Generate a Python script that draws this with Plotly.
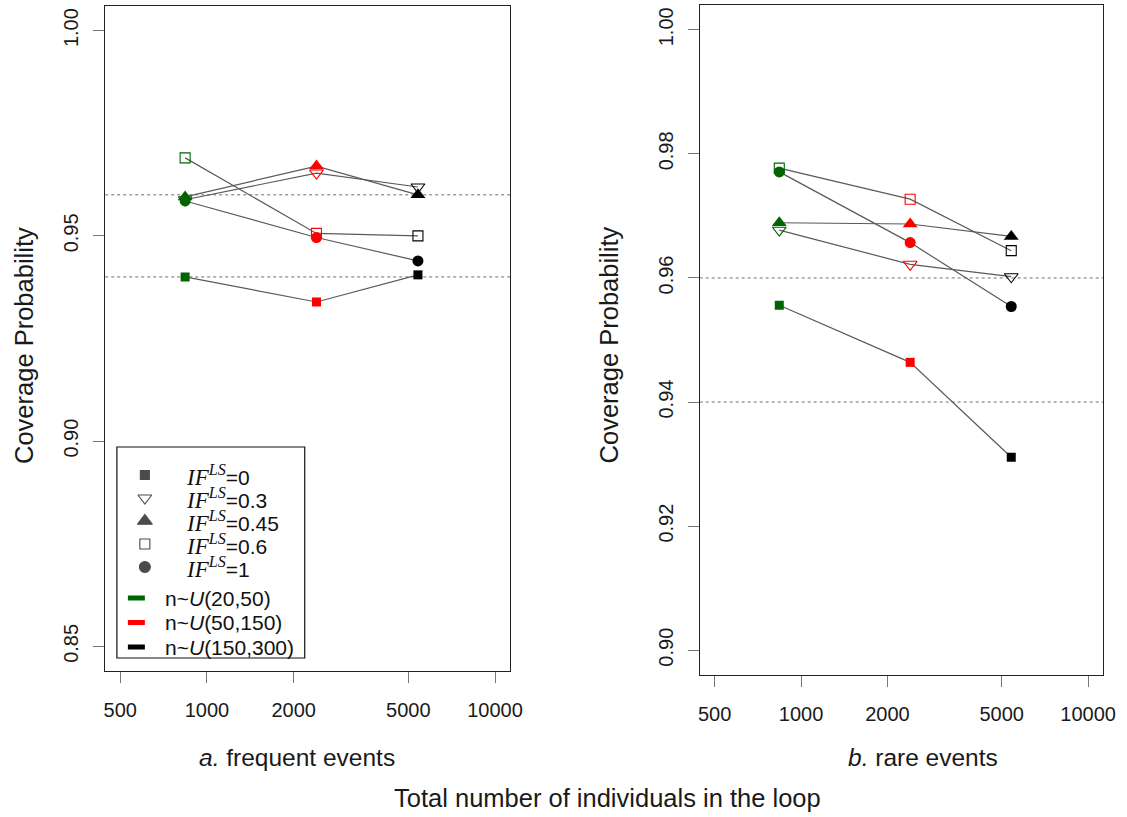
import math
import plotly.graph_objects as go

# ---------------- data ----------------
n_total = [840, 2400, 5400]                      # total individuals in the loop
group_labels = ["n~<i>U</i>(20,50)", "n~<i>U</i>(50,150)", "n~<i>U</i>(150,300)"]
group_colors = ["#006400", "#ff0000", "#000000"]

if_labels = ["0", "0.3", "0.45", "0.6", "1"]
if_symbols = ["square", "triangle-down-open", "triangle-up", "square-open", "circle"]
if_sizes = [9, 12, 13, 10, 11]

# a. frequent events (coverage probability for each IF level, by group)
freq_if0 = [0.9400, 0.9339, 0.9405]
freq_if03 = [0.9588, 0.9653, 0.9619]
freq_if045 = [0.9595, 0.9670, 0.9600]
freq_if06 = [0.9690, 0.9506, 0.9500]
freq_if1 = [0.9585, 0.9496, 0.9439]

# b. rare events
rare_if0 = [0.9556, 0.9464, 0.9311]
rare_if03 = [0.9677, 0.9622, 0.9602]
rare_if045 = [0.9689, 0.9687, 0.9667]
rare_if06 = [0.9777, 0.9727, 0.9644]
rare_if1 = [0.9771, 0.9657, 0.9554]

freq = [freq_if0, freq_if03, freq_if045, freq_if06, freq_if1]
rare = [rare_if0, rare_if03, rare_if045, rare_if06, rare_if1]

x_ticks = [500, 1000, 2000, 5000, 10000]
freq_yticks = [0.85, 0.90, 0.95, 1.00]
rare_yticks = [0.90, 0.92, 0.94, 0.96, 0.98, 1.00]
ref_lines = [0.94, 0.96]

xlim = [500, 10000]
freq_ylim = [0.85, 1.00]
rare_ylim = [0.90, 1.00]

# ---------------- figure ----------------
W, H = 1127, 817
WE = 1113          # width the page actually lays the figure out at (scrollbar)
FONT = "Liberation Sans, Arial, sans-serif"
TRANSP = "rgba(0,0,0,0)"
fig = go.Figure()


def r_range(lo, hi):
    d = (hi - lo) * 0.04
    return [lo - d, hi + d]


lx = r_range(math.log10(xlim[0]), math.log10(xlim[1]))

panels = [("x", "y", freq), ("x2", "y2", rare)]
for xa, ya, data in panels:
    for k, vals in enumerate(data):
        fig.add_trace(go.Scatter(
            x=n_total, y=vals, mode="lines", xaxis=xa, yaxis=ya,
            line=dict(color="#5a5a5a", width=1.2), hoverinfo="skip", showlegend=False))
    for k, vals in enumerate(data):
        is_open = "open" in if_symbols[k]
        fig.add_trace(go.Scatter(
            x=n_total, y=vals, mode="markers", xaxis=xa, yaxis=ya,
            marker=dict(symbol=if_symbols[k], size=if_sizes[k], color=group_colors,
                        line=dict(width=1.1 if is_open else 0, color=group_colors)),
            hoverinfo="skip", showlegend=False))
    for v in ref_lines:
        fig.add_shape(type="line", xref=xa + " domain", yref=ya, x0=0, x1=1, y0=v, y1=v,
                      line=dict(color="#6e6e6e", width=1, dash="dot"), layer="below")

axis_common = dict(showline=True, mirror=True, linecolor="#222", linewidth=1,
                   ticks="outside", ticklen=11, tickwidth=1.2, tickcolor="#777",
                   showgrid=False, zeroline=False,
                   tickfont=dict(family=FONT, size=20, color="#1a1a1a"))

xdom_a = [103.3 / WE, 508.5 / WE]
xdom_b = [698.3 / WE, 1102 / WE]
ydom_a = [1 - 671 / H, 1 - 6 / H]
ydom_b = [1 - 675 / H, 1 - 5 / H]

fig.update_layout(
    width=W, height=H, autosize=False, margin=dict(l=0, r=0, t=0, b=0),
    paper_bgcolor="white", plot_bgcolor=TRANSP, showlegend=False,
    font=dict(family=FONT, color="#1a1a1a"),
    xaxis=dict(domain=xdom_a, anchor="y", type="log", range=lx,
               tickvals=x_ticks, ticktext=[str(t) for t in x_ticks],
               ticklabelstandoff=10, **axis_common),
    yaxis=dict(domain=ydom_a, anchor="x", range=r_range(*freq_ylim),
               tickvals=freq_yticks, tickformat=".2f", tickangle=-90,
               ticklabelstandoff=7, **axis_common),
    xaxis2=dict(domain=xdom_b, anchor="y2", type="log", range=lx,
                tickvals=x_ticks, ticktext=[str(t) for t in x_ticks],
                ticklabelstandoff=10, **axis_common),
    yaxis2=dict(domain=ydom_b, anchor="x2", range=r_range(*rare_ylim),
                tickvals=rare_yticks, tickformat=".2f", tickangle=-90,
                ticklabelstandoff=7, **axis_common),
    # pixel-space overlay axis used only to place the legend keys and titles
    xaxis3=dict(domain=[0, 1], range=[0, WE], visible=False, fixedrange=True, anchor="y3"),
    yaxis3=dict(domain=[0, 1], range=[H, 0], visible=False, fixedrange=True, anchor="x3"),
)

# ---------------- legend (panel a) ----------------
fig.add_shape(type="rect", xref="x3", yref="y3", x0=115, x1=303, y0=447, y1=658,
              line=dict(color="#111", width=1.2), fillcolor=TRANSP, layer="above")

row0, row_step = 475, 23
sym_x, txt_x = 143, 182
if_rows = [row0 + row_step * i for i in range(len(if_labels))]
fig.add_trace(go.Scatter(
    x=[sym_x] * len(if_labels), y=if_rows, mode="markers", xaxis="x3", yaxis="y3",
    marker=dict(symbol=if_symbols, size=if_sizes, color="#000",
                line=dict(width=1.1, color="#000")),
    hoverinfo="skip", showlegend=False))
math_lbl = ("<span style=\"font-family:'Liberation Serif','DejaVu Serif',serif;font-size:23px\">"
            "<i>IF</i><sup><i>LS</i></sup></span>")
for lab, yy in zip(if_labels, if_rows):
    fig.add_annotation(xref="x3", yref="y3", x=txt_x, y=yy, xanchor="left", yanchor="middle",
                       text=math_lbl + "=" + lab, showarrow=False,
                       font=dict(family=FONT, size=21, color="#111"))

grp_rows = [598 + 24.5 * i for i in range(len(group_labels))]
for lab, col, yy in zip(group_labels, group_colors, grp_rows):
    fig.add_shape(type="rect", xref="x3", yref="y3", x0=126, x1=143, y0=yy - 2.5, y1=yy + 2.5,
                  line=dict(width=0), fillcolor=col, layer="above")
    fig.add_annotation(xref="x3", yref="y3", x=161, y=yy, xanchor="left", yanchor="middle",
                       text=lab, showarrow=False, font=dict(family=FONT, size=21, color="#111"))

# ---------------- titles ----------------
lab_font = dict(family=FONT, size=25.5, color="#1a1a1a")
sub_font = dict(family=FONT, size=24.5, color="#1a1a1a")
fig.add_annotation(xref="x3", yref="y3", x=22, y=345, text="Coverage Probability",
                   textangle=-90, showarrow=False, font=lab_font)
fig.add_annotation(xref="x3", yref="y3", x=608, y=345, text="Coverage Probability",
                   textangle=-90, showarrow=False, font=lab_font)
fig.add_annotation(xref="x3", yref="y3", x=295, y=757, text="<i>a.</i> frequent events",
                   showarrow=False, font=sub_font)
fig.add_annotation(xref="x3", yref="y3", x=922, y=757, text="<i>b.</i> rare events",
                   showarrow=False, font=sub_font)
fig.add_annotation(xref="x3", yref="y3", x=606, y=798,
                   text="Total number of individuals in the loop",
                   showarrow=False, font=lab_font)

fig.write_html("out.html",
               config={"displayModeBar": False, "responsive": False},
               post_script="document.body.style.margin='0';")
